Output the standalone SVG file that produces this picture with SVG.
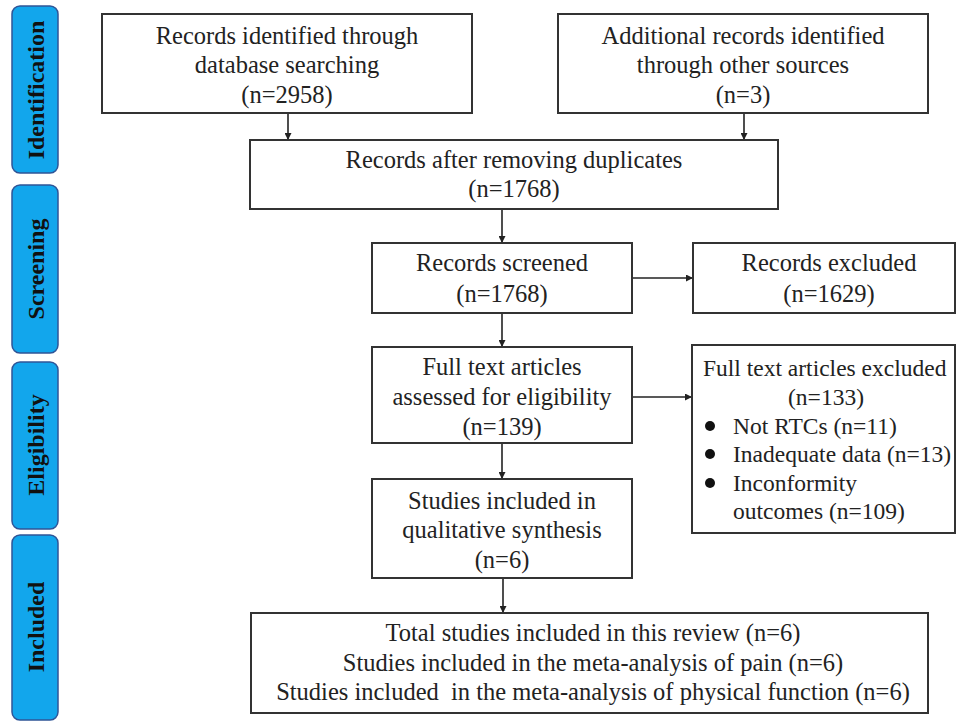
<svg xmlns="http://www.w3.org/2000/svg" width="957" height="722" viewBox="0 0 957 722">
<style>
.tab{fill:#12a6ec;stroke:#2f5597;stroke-width:1.5}
.tabt{font-family:"Liberation Serif",serif;font-weight:bold;font-size:24px;fill:#111;text-anchor:middle}
.box{fill:#fff;stroke:#333;stroke-width:2}
.t{font-family:"Liberation Serif",serif;font-size:24.5px;fill:#222;text-anchor:middle}
.tl{font-family:"Liberation Serif",serif;font-size:23.5px;fill:#222}
.ts{font-size:23.5px}
.c{stroke:#222;stroke-width:1.6;fill:none;marker-end:url(#ah)}
</style>
<defs>
<marker id="ah" viewBox="0 0 10 10" refX="10" refY="5" markerWidth="7" markerHeight="7" markerUnits="userSpaceOnUse" orient="auto">
<path d="M0,0 L10,5 L0,10 z" fill="#222"/>
</marker>
</defs>
<rect width="957" height="722" fill="#fff"/>
<g id="tab-identification"><rect class="tab" x="12" y="6" width="46" height="167" rx="8"/><text class="tabt" transform="translate(44,90) rotate(-90)">Identification</text></g>
<g id="tab-screening"><rect class="tab" x="12" y="185" width="46" height="168" rx="8"/><text class="tabt" transform="translate(44,269) rotate(-90)">Screening</text></g>
<g id="tab-eligibility"><rect class="tab" x="12" y="362" width="46" height="167" rx="8"/><text class="tabt" transform="translate(44,445) rotate(-90)">Eligibility</text></g>
<g id="tab-included"><rect class="tab" x="12" y="535" width="46" height="185" rx="8"/><text class="tabt" transform="translate(44,627) rotate(-90)">Included</text></g>

<g id="connectors">
<line class="c" x1="288" y1="113" x2="288" y2="140"/>
<line class="c" x1="744" y1="113" x2="744" y2="140"/>
<line class="c" x1="502" y1="209" x2="502" y2="243"/>
<line class="c" x1="632" y1="278" x2="693" y2="278"/>
<line class="c" x1="502" y1="313" x2="502" y2="347"/>
<line class="c" x1="632" y1="397" x2="692" y2="397"/>
<line class="c" x1="502" y1="443" x2="502" y2="479"/>
<line class="c" x1="503" y1="578" x2="503" y2="613"/>
</g>

<g id="db-search"><rect class="box" x="102" y="14" width="370" height="99"/>
<text class="t" x="287" y="44">Records identified through</text>
<text class="t" x="287" y="73">database searching</text>
<text class="t" x="287" y="103">(n=2958)</text></g>

<g id="other-sources"><rect class="box" x="558" y="14" width="370" height="99"/>
<text class="t" x="743" y="44">Additional records identified</text>
<text class="t" x="743" y="73">through other sources</text>
<text class="t" x="743" y="103">(n=3)</text></g>

<g id="dedup"><rect class="box" x="250" y="140" width="528" height="69"/>
<text class="t" x="514" y="168">Records after removing duplicates</text>
<text class="t" x="514" y="197">(n=1768)</text></g>

<g id="screened"><rect class="box" x="372" y="243" width="260" height="70"/>
<text class="t" x="502" y="271">Records screened</text>
<text class="t" x="502" y="302">(n=1768)</text></g>

<g id="excluded"><rect class="box" x="693" y="243" width="262" height="70"/>
<text class="t" x="829" y="271">Records excluded</text>
<text class="t" x="829" y="302">(n=1629)</text></g>

<g id="fulltext"><rect class="box" x="372" y="347" width="260" height="96"/>
<text class="t" x="502" y="375">Full text articles</text>
<text class="t" x="502" y="405">assessed for eligibility</text>
<text class="t" x="502" y="435">(n=139)</text></g>

<g id="fulltext-excluded"><rect class="box" x="692" y="345" width="263" height="188"/>
<text class="tl" x="703" y="376">Full text articles excluded</text>
<text class="t ts" x="826" y="405">(n=133)</text>
<circle cx="710" cy="426" r="5" fill="#111"/>
<text class="tl" x="733" y="434">Not RTCs (n=11)</text>
<circle cx="710" cy="454" r="5" fill="#111"/>
<text class="tl" x="733" y="462">Inadequate data (n=13)</text>
<circle cx="710" cy="483" r="5" fill="#111"/>
<text class="tl" x="733" y="491">Inconformity</text>
<text class="tl" x="733" y="519">outcomes (n=109)</text></g>

<g id="qualitative"><rect class="box" x="372" y="479" width="260" height="99"/>
<text class="t" x="502" y="509">Studies included in</text>
<text class="t" x="502" y="538">qualitative synthesis</text>
<text class="t" x="502" y="568">(n=6)</text></g>

<g id="total"><rect class="box" x="251" y="613" width="677" height="100"/>
<text class="t" x="593" y="641">Total studies included in this review (n=6)</text>
<text class="t" x="593" y="671">Studies included in the meta-analysis of pain (n=6)</text>
<text class="t" x="593" y="700" xml:space="preserve">Studies included  in the meta-analysis of physical function (n=6)</text></g>
</svg>
